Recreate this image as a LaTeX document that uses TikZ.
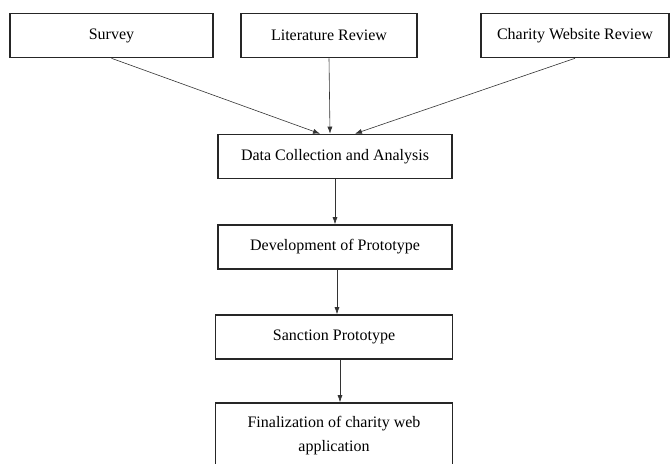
\documentclass[tikz,border=0pt]{standalone}
\usepackage{fontspec}
\setmainfont{Liberation Serif}
\usetikzlibrary{arrows.meta}

\begin{document}
\begin{tikzpicture}[x=1pt,y=-1pt,every node/.style={shape=rectangle,align=center,font=\fontsize{16}{24}\selectfont},
    stage/.style={draw=black!85,line width=1.6pt,inner sep=0pt,minimum height=44pt},
    flow/.style={-{Latex[length=7pt,width=5pt]},line width=0.6pt,draw=black!80}]
  \useasboundingbox (0,0) rectangle (671,463);
  % sources
  \node[stage,minimum width=203pt] (survey) at (111.5,35.5) {Survey};
  \node[stage,minimum width=176pt] (litrev) at (329,35.5) {Literature Review};
  \node[stage,minimum width=188pt] (charity) at (575,35.5) {Charity Website Review};
  % main flow
  \node[stage,minimum width=234pt] (data) at (335,156.5) {Data Collection and Analysis};
  \node[stage,minimum width=234pt] (dev) at (335,247) {Development of Prototype};
  \node[stage,minimum width=237pt] (sanction) at (334,337) {Sanction Prototype};
  \node[stage,minimum width=237pt,minimum height=66pt] (final) at (334,436) {Finalization of charity web\\application};
  \draw[flow] (survey.south) -- ([xshift=-15pt]data.north);
  \draw[flow] (litrev.south) -- ([xshift=-5pt]data.north);
  \draw[flow] (charity.south) -- ([xshift=20pt]data.north);
  \draw[flow] (data.south) -- (dev.north);
  \draw[flow] ([xshift=2pt]dev.south) -- ([xshift=2pt]dev.south |- sanction.north);
  \draw[flow] ([xshift=6pt]sanction.south) -- ([xshift=6pt]sanction.south |- final.north);
\end{tikzpicture}
\end{document}
